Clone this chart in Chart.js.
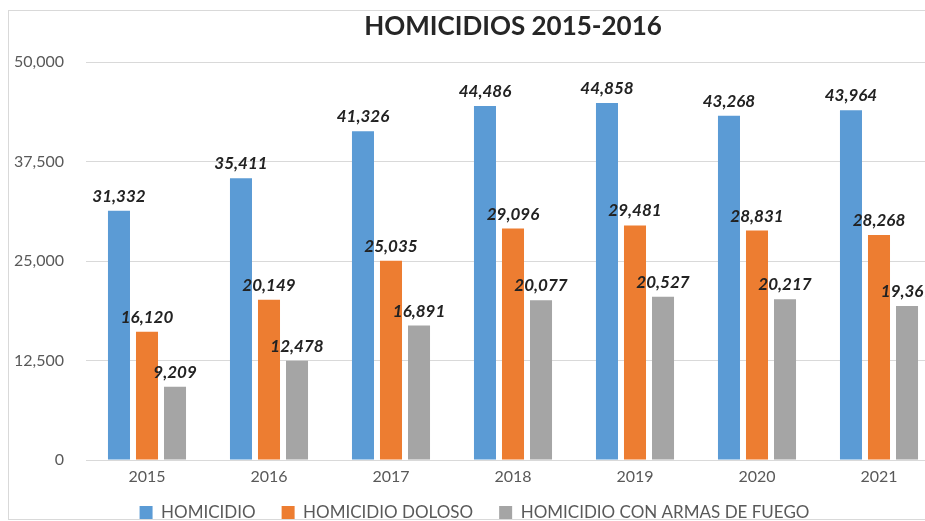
<!DOCTYPE html>
<html>
<head>
<meta charset="utf-8">
<script src="https://cdn.jsdelivr.net/npm/chart.js@4/dist/chart.umd.min.js"></script>
<style>
  html, body { margin: 0; padding: 0; overflow: hidden; background: #ffffff; width: 925px; height: 521px; }
  #wrap { position: absolute; left: 8px; top: 10px; width: 940px; height: 508px; border: 1px solid #d9d9d9; overflow: hidden; background: #fff; }
  #c { display: block; }
</style>
</head>
<body>
<div id="wrap"><canvas id="c" width="931" height="520"></canvas></div>
<script>
const chartTitle = 'HOMICIDIOS 2015-2016';
const years = ['2015', '2016', '2017', '2018', '2019', '2020', '2021'];
const seriesNames = ['HOMICIDIO', 'HOMICIDIO DOLOSO', 'HOMICIDIO CON ARMAS DE FUEGO'];
const homicidio = [31332, 35411, 41326, 44486, 44858, 43268, 43964];
const homicidioDoloso = [16120, 20149, 25035, 29096, 29481, 28831, 28268];
const homicidioArmas = [9209, 12478, 16891, 20077, 20527, 20217, 19367];
const yMin = 0, yMax = 50000, yStep = 12500;

const fmt = v => Number(v).toLocaleString('en-US');

const valueLabels = {
  id: 'valueLabels',
  afterDatasetsDraw(chart) {
    const ctx = chart.ctx;
    ctx.save();
    ctx.font = 'italic bold 17px Lato';
    ctx.fillStyle = '#222222';
    ctx.textAlign = 'center';
    ctx.textBaseline = 'alphabetic';
    chart.data.datasets.forEach((ds, i) => {
      const meta = chart.getDatasetMeta(i);
      meta.data.forEach((el, j) => {
        ctx.fillText(fmt(ds.data[j]), el.x, el.y - 9);
      });
    });
    ctx.restore();
  }
};

new Chart(document.getElementById('c'), {
  type: 'bar',
  data: {
    labels: years,
    datasets: [
      { label: seriesNames[0], data: homicidio, backgroundColor: '#5B9BD5', borderWidth: 0 },
      { label: seriesNames[1], data: homicidioDoloso, backgroundColor: '#ED7D31', borderWidth: 0 },
      { label: seriesNames[2], data: homicidioArmas, backgroundColor: '#A5A5A5', borderWidth: 0 }
    ]
  },
  options: {
    responsive: false,
    animation: false,
    devicePixelRatio: 1,
    layout: { padding: { left: 0, right: 0, top: 0, bottom: 0 } },
    datasets: { bar: { categoryPercentage: 0.689, barPercentage: 0.786 } },
    plugins: {
      title: {
        display: true,
        text: chartTitle,
        fullSize: false,
        color: '#262626',
        font: { family: 'Lato', size: 26, weight: 'bold' },
        padding: { top: 0, bottom: 20 }
      },
      legend: {
        position: 'bottom',
        labels: {
          color: '#595959',
          font: { family: 'Lato', size: 17 },
          boxWidth: 13,
          boxHeight: 13,
          padding: 26
        }
      },
      tooltip: { enabled: false }
    },
    scales: {
      x: {
        grid: { display: false, drawTicks: false },
        border: { display: false },
        ticks: { color: '#595959', font: { family: 'Lato', size: 16 }, padding: -26, mirror: true },
        afterFit(scale) { scale.height = 18; }
      },
      y: {
        min: yMin, max: yMax,
        grid: { color: '#d9d9d9', lineWidth: 1, drawTicks: false },
        border: { display: false },
        ticks: {
          stepSize: yStep,
          color: '#595959',
          font: { family: 'Lato', size: 16 },
          padding: 22,
          callback: v => fmt(v)
        },
        afterFit(scale) { scale.width = 77; }
      }
    }
  },
  plugins: [valueLabels]
});
</script>
</body>
</html>
